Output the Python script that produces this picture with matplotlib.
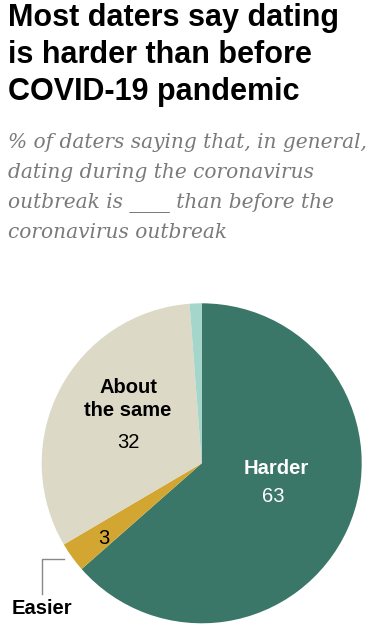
import matplotlib.pyplot as plt
from matplotlib.lines import Line2D

# data
categories = ['Harder', 'Easier', 'About the same', 'No answer']
values = [63, 3, 32, 1.2]
value_labels = ['63', '3', '32', '']
colors = ['#3b7768', '#d3a631', '#ddd9c7', '#a4d6cb']

W, H = 371, 631
fig = plt.figure(figsize=(W / 100, H / 100), dpi=100)
fig.patch.set_facecolor('white')

# title
fig.text(8 / W, 1 - 3 / H, 'Most daters say dating\nis harder than before\nCOVID-19 pandemic',
         ha='left', va='top', fontsize=22, fontweight='bold', family='Liberation Sans',
         linespacing=1.3, color='black')

# subtitle
fig.text(8 / W, 1 - 133 / H,
         '% of daters saying that, in general,\ndating during the coronavirus\n'
         'outbreak is ____ than before the\ncoronavirus outbreak',
         ha='left', va='top', fontsize=14.5, style='italic', family='DejaVu Serif',
         linespacing=1.72, color='#7a7a7a')

# pie
cx, cy, r = 201.7, 463.3, 160
ax = fig.add_axes([(cx - r) / W, (H - cy - r) / H, 2 * r / W, 2 * r / H])
ax.pie(values, colors=colors, startangle=90, counterclock=False, radius=1,
       wedgeprops=dict(linewidth=0))
ax.set_xlim(-1, 1)
ax.set_ylim(-1, 1)
ax.set_aspect('equal')
ax.axis('off')


def px(x, y):
    return (x - cx) / r, (cy - y) / r


lab_font = dict(family='Liberation Sans', fontsize=14.5)
ax.text(*px(276, 468), categories[0], ha='center', va='center', fontweight='bold',
        color='white', **lab_font)
ax.text(*px(273, 497), value_labels[0], ha='center', va='center', color='white', **lab_font)
ax.text(*px(128, 399), 'About\nthe same', ha='center', va='center', fontweight='bold',
        color='black', linespacing=1.3, **lab_font)
ax.text(*px(128, 443), value_labels[2], ha='center', va='center', color='black', **lab_font)
ax.text(*px(104, 538), value_labels[1], ha='center', va='center', color='black', **lab_font)

# leader for Easier
fig.add_artist(Line2D([64 / W, 42 / W, 42 / W], [1 - 559 / H, 1 - 559 / H, 1 - 594 / H],
                      color='#888888', lw=1))
fig.text(12 / W, 1 - 608 / H, categories[1], ha='left', va='center', fontweight='bold',
         color='black', **lab_font)

fig.savefig('out.png', dpi=100)
